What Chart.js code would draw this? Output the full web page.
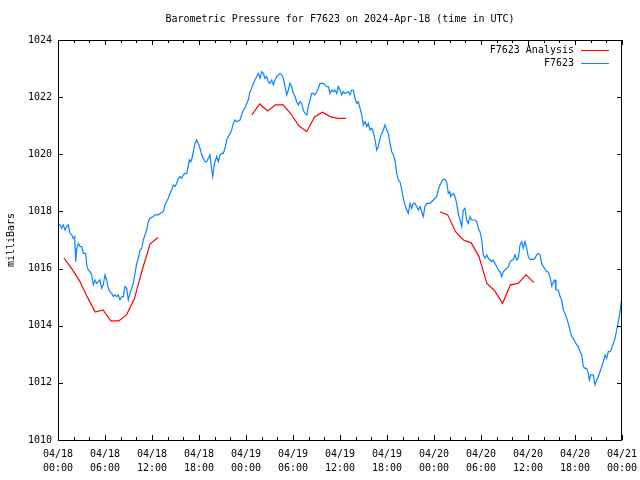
<!DOCTYPE html>
<html>
<head>
<meta charset="utf-8">
<script src="https://cdn.jsdelivr.net/npm/chart.js@4/dist/chart.umd.min.js"></script>
<style>
  html, body { margin: 0; padding: 0; background: #fff; }
  canvas { display: block; }
</style>
</head>
<body>
<canvas id="pressureChart" width="640" height="480"></canvas>
<script>
// hours since 2024-04-18 00:00 UTC
const obsHours = [
  0.00,0.26,0.47,0.68,0.89,1.11,1.31,1.53,1.75,1.95,
  2.13,2.26,2.39,2.59,2.81,3.03,3.23,3.54,3.66,3.87,
  4.09,4.30,4.51,4.72,4.94,5.14,5.36,5.58,5.78,6.00,
  6.22,6.42,6.64,6.86,7.06,7.28,7.49,7.70,7.91,8.13,
  8.34,8.55,8.77,8.97,9.19,9.41,9.61,9.83,10.05,10.25,
  10.47,10.69,10.89,11.11,11.32,11.53,11.74,12.17,12.38,12.80,
  13.02,13.44,13.66,14.08,14.30,14.51,14.72,14.94,15.15,15.36,
  15.57,15.79,16.00,16.21,16.43,16.63,16.76,16.94,17.11,17.27,
  17.49,17.71,17.91,18.13,18.34,18.55,18.77,18.98,19.19,19.40,
  19.53,19.62,19.75,19.91,20.04,20.26,20.46,20.68,20.90,21.10,
  21.32,21.54,21.74,21.96,22.17,22.38,22.60,22.81,23.23,23.45,
  23.66,23.87,24.09,24.29,24.51,24.73,24.93,25.15,25.37,25.57,
  25.79,26.00,26.21,26.43,26.64,26.85,27.06,27.28,27.49,27.70,
  27.92,28.12,28.34,28.56,28.76,28.98,29.20,29.40,29.62,29.83,
  30.04,30.26,30.47,30.68,30.89,31.11,31.31,31.53,31.75,31.95,
  32.17,32.39,32.59,32.81,33.03,33.23,33.45,33.87,34.08,34.30,
  34.51,34.72,34.94,35.15,35.36,35.58,35.78,36.00,36.22,36.42,
  36.64,37.06,37.28,37.49,37.70,37.91,38.13,38.34,38.55,38.77,
  38.97,39.19,39.41,39.61,39.83,40.05,40.25,40.47,40.69,40.89,
  41.11,41.32,41.53,41.74,41.96,42.17,42.38,42.60,42.80,43.02,
  43.24,43.44,43.66,43.88,44.08,44.30,44.52,44.72,44.94,45.15,
  45.36,45.57,45.79,46.00,46.21,46.43,46.63,46.85,47.07,47.49,
  47.91,48.34,48.55,48.77,48.98,49.19,49.40,49.62,49.83,50.04,
  50.13,50.26,50.46,50.68,50.90,51.10,51.32,51.54,51.74,51.96,
  52.17,52.38,52.60,52.81,53.23,53.45,53.66,53.87,54.09,54.29,
  54.51,54.73,54.93,55.15,55.37,55.57,55.79,56.00,56.21,56.43,
  56.64,56.85,57.06,57.28,57.49,57.70,57.92,58.12,58.34,58.56,
  58.76,58.98,59.20,59.40,59.62,59.83,60.04,60.26,60.68,60.89,
  61.11,61.32,61.53,61.75,61.96,62.39,62.59,62.81,63.03,63.23,
  63.45,63.57,63.87,64.09,64.30,64.51,64.72,64.94,65.14,65.36,
  65.58,65.78,66.00,66.22,66.42,66.64,66.86,67.06,67.28,67.49,
  67.70,67.83,68.01,68.34,68.55,68.77,68.97,69.19,69.41,69.61,
  69.83,70.05,70.25,70.47,70.69,70.89,71.11,71.32,71.53,71.75,
  71.94
];

const obsPressure = [
  1017.49,1017.53,1017.41,1017.53,1017.35,1017.47,1017.53,1017.23,1017.18,1017.06,
  1017.12,1016.24,1016.71,1016.88,1016.77,1016.77,1016.53,1016.53,1016.13,1015.95,
  1015.89,1015.78,1015.43,1015.60,1015.48,1015.54,1015.60,1015.31,1015.43,1015.78,
  1015.60,1015.31,1015.19,1015.13,1015.02,1015.08,1015.02,1015.08,1014.90,1015.02,
  1015.02,1015.37,1015.31,1014.90,1015.13,1015.31,1015.48,1015.83,1016.18,1016.36,
  1016.65,1016.71,1017.00,1017.18,1017.35,1017.64,1017.76,1017.82,1017.88,1017.88,
  1017.93,1017.99,1018.23,1018.46,1018.63,1018.75,1018.93,1018.87,1018.98,1019.16,
  1019.22,1019.16,1019.28,1019.33,1019.33,1019.57,1019.80,1019.74,1019.86,1020.09,
  1020.38,1020.50,1020.38,1020.21,1019.98,1019.86,1019.74,1019.74,1019.86,1019.98,
  1019.68,1019.45,1019.22,1019.57,1019.74,1019.92,1019.74,1019.98,1020.03,1020.03,
  1020.21,1020.50,1020.62,1020.73,1020.85,1021.08,1021.20,1021.14,1021.20,1021.38,
  1021.55,1021.61,1021.78,1021.90,1022.19,1022.31,1022.48,1022.60,1022.72,1022.83,
  1022.66,1022.89,1022.83,1022.66,1022.72,1022.54,1022.48,1022.60,1022.43,1022.60,
  1022.72,1022.78,1022.83,1022.78,1022.66,1022.37,1022.08,1022.25,1022.48,1022.37,
  1022.13,1022.02,1021.84,1021.73,1021.84,1021.78,1021.55,1021.43,1021.38,1021.67,
  1021.90,1022.13,1022.13,1022.08,1022.19,1022.31,1022.48,1022.48,1022.43,1022.37,
  1022.37,1022.13,1022.25,1022.19,1022.25,1022.13,1022.37,1022.25,1022.08,1022.19,
  1022.13,1022.19,1022.08,1022.25,1022.25,1021.96,1021.78,1021.84,1021.62,1021.38,
  1021.03,1021.14,1020.97,1021.08,1020.85,1020.91,1020.79,1020.50,1020.15,1020.27,
  1020.56,1020.73,1020.85,1021.03,1020.85,1020.73,1020.38,1020.09,1019.98,1019.80,
  1019.33,1019.10,1019.04,1018.75,1018.46,1018.23,1018.05,1017.93,1018.28,1018.11,
  1018.28,1018.28,1018.17,1018.05,1018.17,1017.99,1017.82,1018.17,1018.28,1018.28,
  1018.40,1018.52,1018.75,1018.93,1019.04,1019.12,1019.12,1019.04,1018.63,1018.69,
  1018.52,1018.58,1018.63,1018.52,1018.28,1017.93,1017.70,1017.47,1018.05,1018.11,
  1017.70,1017.58,1017.82,1017.70,1017.70,1017.64,1017.41,1017.29,1017.00,1016.48,
  1016.36,1016.48,1016.36,1016.30,1016.24,1016.30,1016.18,1016.07,1015.95,1015.89,
  1015.72,1015.89,1015.95,1016.01,1016.07,1016.24,1016.30,1016.30,1016.48,1016.30,
  1016.36,1016.83,1016.94,1016.71,1016.94,1016.71,1016.42,1016.32,1016.32,1016.36,
  1016.48,1016.53,1016.48,1016.18,1016.07,1015.89,1015.88,1015.71,1015.39,1015.53,
  1015.60,1015.25,1015.25,1015.02,1014.90,1014.55,1014.43,1014.26,1014.08,1013.85,
  1013.62,1013.56,1013.44,1013.33,1013.27,1013.09,1012.98,1012.57,1012.51,1012.51,
  1012.33,1012.10,1012.28,1012.28,1011.93,1012.10,1012.22,1012.39,1012.57,1012.74,
  1012.98,1012.86,1013.09,1013.09,1013.21,1013.38,1013.56,1013.85,1014.14,1014.49,
  1014.90
];

// analysis runs (null = gap between runs)
const anaHours = [
  0.75,1.75,2.75,3.75,4.75,5.75,6.75,7.75,8.75,9.75,10.75,11.75,12.75,
  18.75,
  24.75,25.75,26.75,27.75,28.75,29.75,30.75,31.75,32.75,33.75,34.75,35.75,36.75,
  42.75,
  48.75,49.75,50.75,51.75,52.75,53.75,54.75,55.75,56.75,57.75,58.75,59.75,60.75
];
const anaPressure = [
  1016.37,1016.00,1015.57,1015.00,1014.48,1014.55,1014.17,1014.17,1014.38,1014.94,1015.95,1016.86,1017.09,
  null,
  1021.38,1021.76,1021.52,1021.73,1021.73,1021.41,1021.00,1020.79,1021.31,1021.47,1021.32,1021.26,1021.26,
  null,
  1017.99,1017.88,1017.29,1017.00,1016.90,1016.41,1015.48,1015.22,1014.78,1015.43,1015.48,1015.78,1015.51
];

const dayLabels = ['04/18','04/18','04/18','04/18','04/19','04/19','04/19','04/19','04/20','04/20','04/20','04/20','04/21'];
const timeLabels = ['00:00','06:00','12:00','18:00','00:00','06:00','12:00','18:00','00:00','06:00','12:00','18:00','00:00'];

const chartTitle = 'Barometric Pressure for F7623 on 2024-Apr-18 (time in UTC)';
const yTitle = 'milliBars';
const FONT = 'DejaVu Sans Mono';

const toPoints = (xs, ys) => xs.map((x, i) => ({ x: x, y: ys[i] }));

// gnuplot style frame: full box, inward ticks, title, y label, legend
const gnuplotFrame = {
    id: 'gnuplotFrame',
    afterDraw(chart) {
        const { ctx, chartArea: a, scales } = chart;
        const xs = scales.x, ys = scales.y;
        ctx.save();
        ctx.strokeStyle = '#000';
        ctx.lineWidth = 1;
        ctx.strokeRect(a.left + 0.5, a.top + 0.5, a.right - a.left - 1, a.bottom - a.top);

        ctx.beginPath();
        for (let h = xs.min; h <= xs.max; h += 2) {
            const px = Math.round(xs.getPixelForValue(h)) + 0.5;
            const len = h % 6 === 0 ? 5 : 3;
            ctx.moveTo(px, a.bottom); ctx.lineTo(px, a.bottom - len);
            ctx.moveTo(px, a.top); ctx.lineTo(px, a.top + len);
        }
        for (let v = ys.min; v <= ys.max; v += 2) {
            const py = Math.round(ys.getPixelForValue(v)) + 0.5;
            ctx.moveTo(a.left, py); ctx.lineTo(a.left + 5, py);
            ctx.moveTo(a.right, py); ctx.lineTo(a.right - 5, py);
        }
        ctx.stroke();

        ctx.fillStyle = '#000';
        ctx.font = '10px "' + FONT + '"';
        ctx.textAlign = 'center';
        ctx.textBaseline = 'middle';
        ctx.fillText(chartTitle, (a.left + a.right) / 2, 19);

        ctx.save();
        ctx.translate(11, (a.top + a.bottom) / 2);
        ctx.rotate(-Math.PI / 2);
        ctx.fillText(yTitle, 0, 0);
        ctx.restore();

        // legend
        ctx.textAlign = 'right';
        chart.data.datasets.forEach((ds, i) => {
            const ly = 50 + i * 13;
            ctx.fillStyle = '#000';
            ctx.fillText(ds.label, a.right - 48, ly);
            ctx.strokeStyle = ds.borderColor;
            ctx.beginPath();
            ctx.moveTo(a.right - 41, ly + 0.5);
            ctx.lineTo(a.right - 13, ly + 0.5);
            ctx.stroke();
        });
        ctx.restore();
    }
};

new Chart(document.getElementById('pressureChart'), {
    type: 'line',
    data: {
        datasets: [
            {
                label: 'F7623 Analysis',
                data: toPoints(anaHours, anaPressure),
                borderColor: '#ff0000',
                borderWidth: 1.2,
                pointRadius: 0,
                spanGaps: false,
                tension: 0
            },
            {
                label: 'F7623',
                data: toPoints(obsHours, obsPressure),
                borderColor: '#0a84ff',
                borderWidth: 1.2,
                pointRadius: 0,
                tension: 0
            }
        ]
    },
    options: {
        responsive: false,
        animation: false,
        layout: { padding: { top: 40, right: 18, left: 0, bottom: 0 } },
        plugins: {
            legend: { display: false },
            title: { display: false },
            tooltip: { enabled: false }
        },
        scales: {
            x: {
                type: 'linear',
                min: 0,
                max: 72,
                grid: { display: false, drawTicks: false },
                border: { display: false },
                ticks: {
                    stepSize: 6,
                    autoSkip: false,
                    maxRotation: 0,
                    padding: 7,
                    color: '#000',
                    font: { family: FONT, size: 10, lineHeight: 1.4 },
                    callback: (value) => {
                        const i = Math.round(value / 6);
                        return [dayLabels[i], timeLabels[i]];
                    }
                },
                afterFit: (scale) => {
                    scale.height = 40;
                    scale.paddingLeft = 0;
                    scale.paddingRight = 0;
                }
            },
            y: {
                min: 1010,
                max: 1024,
                grid: { display: false, drawTicks: false },
                border: { display: false },
                ticks: {
                    stepSize: 2,
                    padding: 6,
                    color: '#000',
                    font: { family: FONT, size: 10 },
                    callback: (value) => String(value)
                },
                afterFit: (scale) => {
                    scale.width = 58;
                    scale.paddingTop = 0;
                    scale.paddingBottom = 0;
                }
            }
        }
    },
    plugins: [gnuplotFrame]
});
</script>
</body>
</html>
